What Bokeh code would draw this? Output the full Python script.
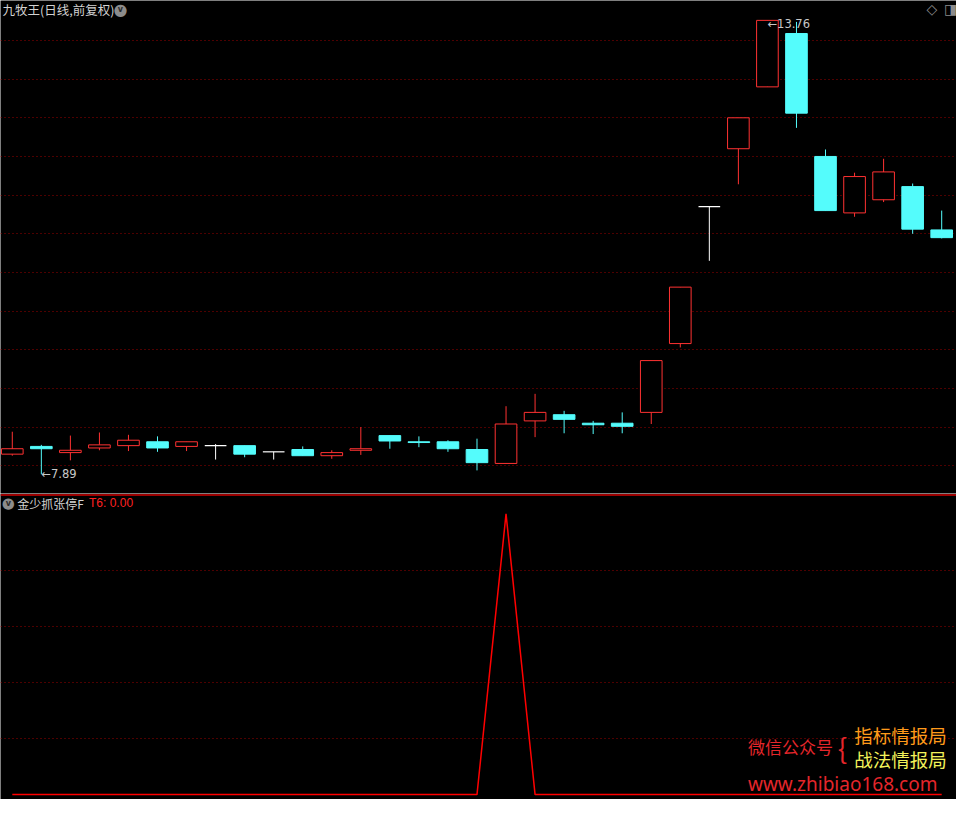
from bokeh.plotting import figure
from bokeh.models import Range1d, Label, Span, FixedTicker, ColumnDataSource
from bokeh.layouts import column
from bokeh.embed import file_html
from bokeh.resources import INLINE

# ---------------- data ----------------
days = list(range(1, 34))
open_ = [8.15, 8.25, 8.17, 8.23, 8.26, 8.31, 8.25, 8.26, 8.26, 8.18, 8.21,
         8.13, 8.20, 8.39, 8.31, 8.31, 8.21, 8.03, 8.58, 8.66, 8.55, 8.55,
         8.69, 9.58, 11.35, 12.10, 12.90, 13.59, 12.00, 11.27, 11.44, 11.61, 11.05]
high = [8.44, 8.27, 8.39, 8.43, 8.40, 8.38, 8.31, 8.28, 8.26, 8.18, 8.25,
        8.20, 8.50, 8.39, 8.38, 8.33, 8.35, 8.77, 8.93, 8.71, 8.58, 8.69,
        9.36, 10.31, 11.35, 12.50, 13.76, 13.74, 12.09, 11.79, 11.97, 11.65, 11.30]
low = [8.13, 7.89, 8.07, 8.20, 8.19, 8.18, 8.19, 8.08, 8.11, 8.08, 8.13,
       8.09, 8.14, 8.22, 8.24, 8.18, 7.94, 8.03, 8.37, 8.42, 8.41, 8.42,
       8.54, 9.53, 10.65, 11.64, 12.90, 12.37, 11.30, 11.22, 11.41, 11.00, 10.94]
close = [8.22, 8.22, 8.20, 8.27, 8.33, 8.23, 8.31, 8.26, 8.15, 8.18, 8.13,
         8.17, 8.22, 8.32, 8.30, 8.22, 8.04, 8.54, 8.69, 8.60, 8.53, 8.51,
         9.36, 10.31, 11.35, 12.50, 13.76, 12.56, 11.30, 11.74, 11.80, 11.06, 10.95]
t6 = [0, 0, 0, 0, 0, 0, 0, 0, 0, 0, 0, 0, 0, 0, 0, 0, 0, 100,
      0, 0, 0, 0, 0, 0, 0, 0, 0, 0, 0, 0, 0, 0, 0]
price_ticks = [8.0, 8.5, 9.0, 9.5, 10.0, 10.5, 11.0, 11.5, 12.0, 12.5, 13.0, 13.5]
t6_ticks = [20, 40, 60, 80]

title_text = "九牧王(日线,前复权)"
ind_name = "金少抓张停F"
ind_value = "T6: 0.00"

UP = "#FF3232"
DOWN = "#54FCFC"
FLAT = "#FFFFFF"
BG = "#000000"
GRID = "#9A0000"
CJK = "Noto Sans CJK SC"

W = 956
H1 = 493
H2 = 306

x_rng = Range1d(0.594, 33.51)

# ---------------- price panel ----------------
p1 = figure(width=W, height=H1, x_range=x_rng, y_range=Range1d(7.641, 14.017),
            output_backend="svg", toolbar_location=None, title=None,
            x_axis_location=None, y_axis_location=None, min_border=0,
            background_fill_color=BG, border_fill_color=BG, outline_line_color=None)
p1.xgrid.visible = False
p1.ygrid.ticker = FixedTicker(ticks=price_ticks)
p1.ygrid.grid_line_color = GRID
p1.ygrid.grid_line_dash = "1 3"
p1.ygrid.grid_line_width = 1

colors = [UP if c > o else (DOWN if c < o else FLAT) for o, c in zip(open_, close)]

wick_src = ColumnDataSource(dict(x=days, lo=low, hi=high, c=colors))
p1.segment(x0="x", y0="lo", x1="x", y1="hi", color="c", line_width=1, source=wick_src)

bx, btop, bbot, bfill, bline = [], [], [], [], []
dx, dy = [], []
for d, o, c, col in zip(days, open_, close, colors):
    if o == c:
        dx.append(d)
        dy.append(o)
    else:
        bx.append(d)
        btop.append(max(o, c))
        bbot.append(min(o, c))
        bfill.append(BG if c > o else DOWN)
        bline.append(col)
body_src = ColumnDataSource(dict(x=bx, top=btop, bottom=bbot, f=bfill, l=bline))
p1.vbar(x="x", width=0.745, top="top", bottom="bottom", fill_color="f",
        line_color="l", line_width=1, source=body_src)

doji_src = ColumnDataSource(dict(x0=[d - 0.3725 for d in dx], x1=[d + 0.3725 for d in dx], y=dy))
p1.segment(x0="x0", y0="y", x1="x1", y1="y", color=FLAT, line_width=1.2, source=doji_src)

p1.add_layout(Label(x=0.662, y=13.903, text=title_text, text_font=CJK,
                    text_font_size="12.5px", text_color="#D2D2D2", text_baseline="middle"))
p1.add_layout(Label(x=4.725, y=13.903, text="●", text_font="DejaVu Sans",
                    text_font_size="16px", text_color="#8C8C8C",
                    text_align="center", text_baseline="middle"))
p1.add_layout(Label(x=4.725, y=13.903, text="v", text_font="DejaVu Sans",
                    text_font_size="8px", text_font_style="bold", text_color="#2A2A2A",
                    text_align="center", text_baseline="middle"))
p1.add_layout(Label(x=32.663, y=13.903, text="◇", text_font="DejaVu Sans",
                    text_font_size="14px", text_color="#8C8C8C",
                    text_align="center", text_baseline="middle"))
p1.add_layout(Label(x=33.307, y=13.903, text="◨", text_font="DejaVu Sans",
                    text_font_size="14px", text_color="#8C8C8C",
                    text_align="center", text_baseline="middle"))

lo_i = low.index(min(low))
hi_i = high.index(max(high))
p1.add_layout(Label(x=days[lo_i], y=low[lo_i], text="←%.2f" % low[lo_i],
                    text_font="DejaVu Sans", text_font_size="11.5px",
                    text_color="#C8C8C8", text_baseline="middle"))
p1.add_layout(Label(x=days[hi_i], y=high[hi_i], y_offset=-4, text="←%.2f" % high[hi_i],
                    text_font="DejaVu Sans", text_font_size="11.5px",
                    text_color="#C8C8C8", text_baseline="middle"))

# ---------------- indicator panel ----------------
p2 = figure(width=W, height=H2, x_range=x_rng, y_range=Range1d(-1.747, 107.25),
            output_backend="svg", toolbar_location=None, title=None,
            x_axis_location=None, y_axis_location=None, min_border=0,
            background_fill_color=BG, border_fill_color=BG, outline_line_color=None)
p2.xgrid.visible = False
p2.ygrid.ticker = FixedTicker(ticks=t6_ticks)
p2.ygrid.grid_line_color = GRID
p2.ygrid.grid_line_dash = "1 3"
p2.ygrid.grid_line_width = 1

p2.add_layout(Span(location=106.73, dimension="width", line_color="#D00000", line_width=1.5))
p2.line(days, t6, line_color="#FF0000", line_width=1.5)

p2.add_layout(Label(x=0.865, y=103.75, text="●", text_font="DejaVu Sans",
                    text_font_size="15px", text_color="#8C8C8C",
                    text_align="center", text_baseline="middle"))
p2.add_layout(Label(x=0.865, y=103.75, text="v", text_font="DejaVu Sans",
                    text_font_size="8px", text_font_style="bold", text_color="#2A2A2A",
                    text_align="center", text_baseline="middle"))
p2.add_layout(Label(x=1.17, y=103.75, text=ind_name, text_font=CJK,
                    text_font_size="12px", text_color="#D2D2D2", text_baseline="middle"))
p2.add_layout(Label(x=3.642, y=103.75, text=ind_value, text_font="Liberation Sans",
                    text_font_size="12px", text_color="#FF2020", text_baseline="middle"))

p2.add_layout(Label(x=26.33, y=17.12, text="微信公众号", text_font=CJK,
                    text_font_size="17px", text_color="#E5262B", text_baseline="middle"))
p2.add_layout(Label(x=29.58, y=16.9, text="{", text_font=CJK,
                    text_font_size="28px", text_color="#E5262B",
                    text_align="center", text_baseline="middle"))
p2.add_layout(Label(x=29.988, y=21.31, text="指标情报局", text_font=CJK,
                    text_font_size="18.5px", text_color="#FF9A1A", text_baseline="middle"))
p2.add_layout(Label(x=29.988, y=12.58, text="战法情报局", text_font=CJK,
                    text_font_size="18.5px", text_color="#F2F25A", text_baseline="middle"))
p2.add_layout(Label(x=26.33, y=3.84, text="www.zhibiao168.com", text_font="Noto Sans",
                    text_font_size="19px", text_color="#E5262B", text_baseline="middle"))

layout = column(p1, p2, spacing=0)
open("out.html", "w").write(file_html(layout, INLINE))
